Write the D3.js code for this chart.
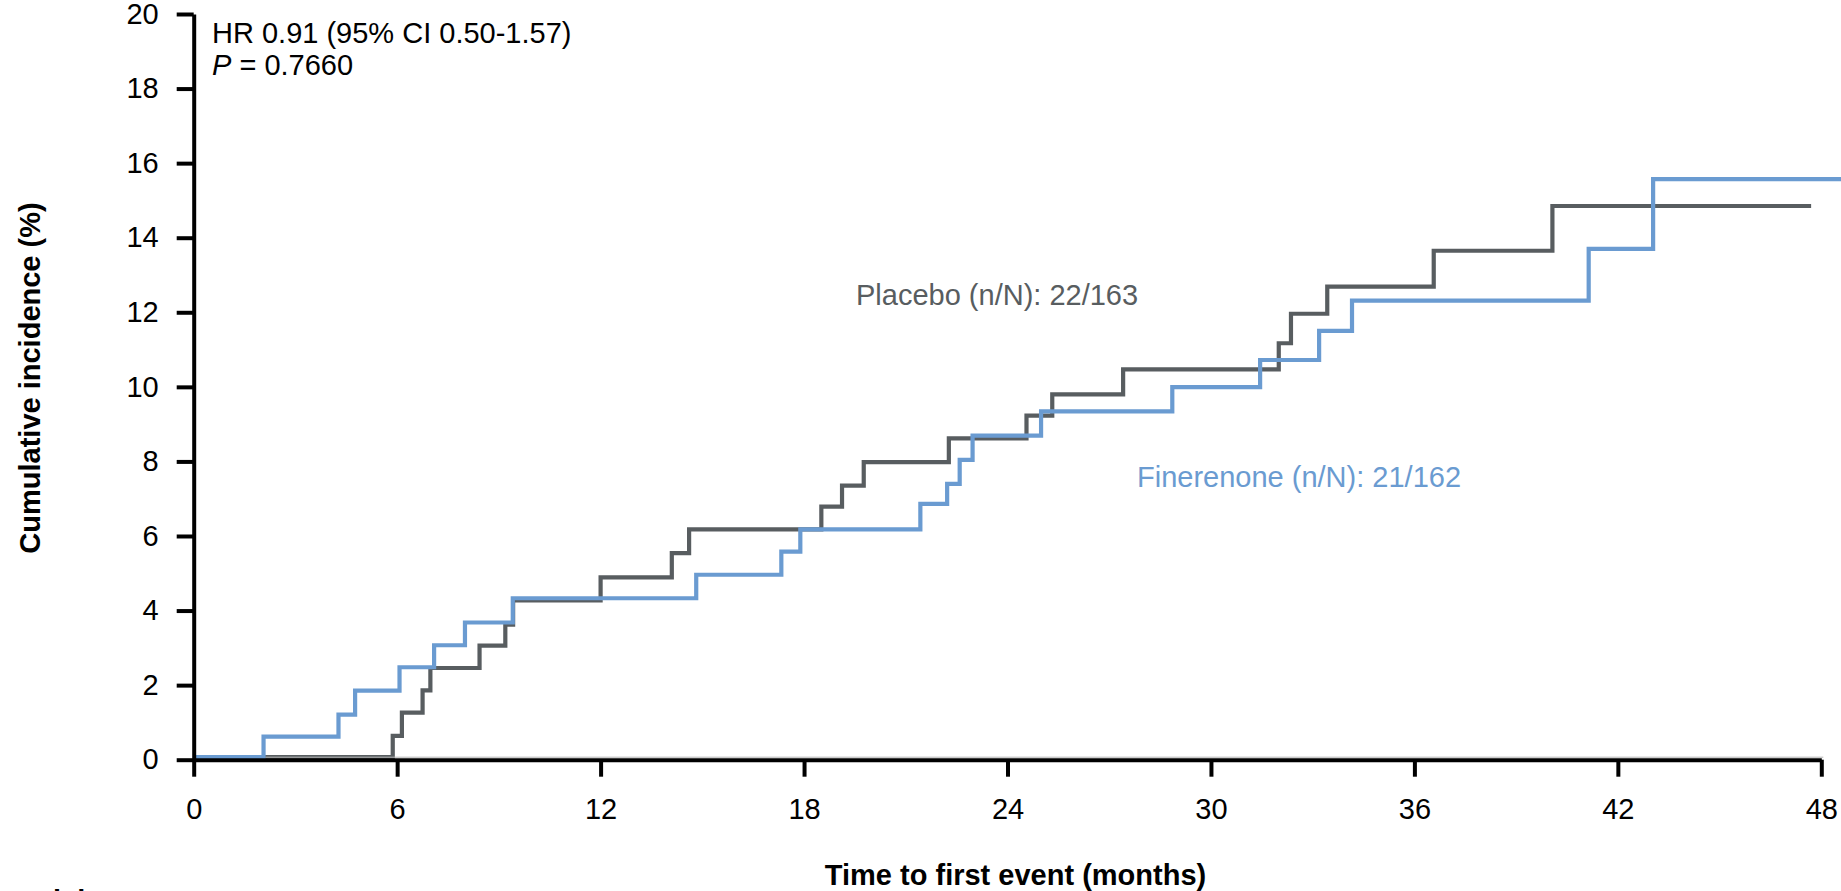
<!DOCTYPE html>
<html>
<head>
<meta charset="utf-8">
<script src="https://cdn.jsdelivr.net/npm/d3@7"></script>
<style>
  html, body { margin: 0; padding: 0; background: #fff; overflow: hidden; }
  text { font-family: "Liberation Sans", Arial, sans-serif; }
</style>
</head>
<body>
<svg id="chart" width="1841" height="891"></svg>
<script>
// ---- Data ----
const xTicks = [0, 6, 12, 18, 24, 30, 36, 42, 48];
const yTicks = [0, 2, 4, 6, 8, 10, 12, 14, 16, 18, 20];

const placeboTimes  = [0, 5.87, 6.14, 6.75, 6.98, 8.43, 9.19, 9.42, 12.0, 14.1, 14.61, 18.51, 19.12, 19.76, 22.27, 24.56, 25.32, 27.41, 32.0, 32.36, 33.43, 36.57, 40.07, 47.7];
const placeboValues = [0.07, 0.64, 1.26, 1.86, 2.46, 3.06, 3.62, 4.27, 4.89, 5.54, 6.18, 6.79, 7.35, 7.98, 8.62, 9.23, 9.80, 10.47, 11.17, 11.96, 12.69, 13.65, 14.85, 14.85];

const fineTimes  = [0, 2.06, 4.27, 4.76, 6.07, 7.09, 8.0, 9.41, 14.82, 17.33, 17.89, 21.43, 22.22, 22.59, 22.97, 24.99, 28.86, 31.45, 33.19, 34.16, 41.14, 43.04, 48.6];
const fineValues = [0.07, 0.62, 1.21, 1.85, 2.48, 3.07, 3.68, 4.33, 4.96, 5.58, 6.18, 6.86, 7.40, 8.04, 8.69, 9.34, 9.99, 10.72, 11.50, 12.31, 13.70, 15.57, 15.57];

const seriesNames = ["Placebo (n/N): 22/163", "Finerenone (n/N): 21/162"];
const annotation1 = "HR 0.91 (95% CI 0.50-1.57)";
const annotation2Value = " = 0.7660";
const xTitle = "Time to first event (months)";
const yTitle = "Cumulative incidence (%)";

// ---- Layout ----
const svg = d3.select("#chart");
const GREY = "#585d60", BLUE = "#6a9bd1";
const FS = 29;

const x = d3.scaleLinear().domain([0, 48]).range([193.7, 1821.3]);
const y = d3.scaleLinear().domain([0, 20]).range([759.7, 14]);

const line = d3.line()
  .x(d => x(d[0]))
  .y(d => y(d[1]))
  .curve(d3.curveStepAfter);

const placebo = placeboTimes.map((t, i) => [t, placeboValues[i]]);
const fine = fineTimes.map((t, i) => [t, fineValues[i]]);

// series lines (drawn below the axes)
svg.append("path").datum(placebo)
  .attr("d", line).attr("fill", "none")
  .attr("stroke", GREY).attr("stroke-width", 4.2)
  .attr("stroke-linejoin", "miter").attr("stroke-linecap", "butt");

svg.append("path").datum(fine)
  .attr("d", line).attr("fill", "none")
  .attr("stroke", BLUE).attr("stroke-width", 4.2)
  .attr("stroke-linejoin", "miter").attr("stroke-linecap", "butt");

// axes
const xAxis = d3.axisBottom(x).tickValues(xTicks).tickSize(17).tickSizeOuter(0).tickPadding(22);
const yAxis = d3.axisLeft(y).tickValues(yTicks).tickSize(17).tickSizeOuter(0).tickPadding(18);

const gx = svg.append("g").attr("transform", `translate(0,${y(0)})`).call(xAxis);
const gy = svg.append("g").attr("transform", `translate(${x(0)},0)`).call(yAxis);

[gx, gy].forEach(g => {
  g.select(".domain").attr("stroke", "#000").attr("stroke-width", 4);
  g.selectAll(".tick line").attr("stroke", "#000").attr("stroke-width", 4);
  g.selectAll(".tick text").attr("fill", "#000")
    .style("font-size", FS + "px")
    .style("font-family", '"Liberation Sans", Arial, sans-serif');
});

// thin light line on top of the x axis
svg.append("line")
  .attr("x1", x(2.06) + 2).attr("x2", x(48) + 2)
  .attr("y1", y(0) - 2.5).attr("y2", y(0) - 2.5)
  .attr("stroke", "#b4b4b4").attr("stroke-width", 1);

// axis titles
svg.append("text")
  .attr("x", (x(0) + x(48)) / 2 + 8).attr("y", 885)
  .attr("text-anchor", "middle")
  .style("font-size", FS + "px").style("font-weight", "bold")
  .text(xTitle);

svg.append("text")
  .attr("transform", "translate(40,378) rotate(-90)")
  .attr("text-anchor", "middle")
  .style("font-size", FS + "px").style("font-weight", "bold")
  .text(yTitle);

// annotations
svg.append("text")
  .attr("x", 212).attr("y", 43)
  .style("font-size", FS + "px")
  .text(annotation1);

const p = svg.append("text")
  .attr("x", 212).attr("y", 75)
  .style("font-size", FS + "px");
p.append("tspan").style("font-style", "italic").text("P");
p.append("tspan").text(annotation2Value);

// series labels
svg.append("text")
  .attr("x", 856).attr("y", 305)
  .attr("fill", GREY)
  .style("font-size", FS + "px")
  .text(seriesNames[0]);

svg.append("text")
  .attr("x", 1137).attr("y", 487)
  .attr("fill", BLUE)
  .style("font-size", FS + "px")
  .text(seriesNames[1]);

// partially cut-off text at the bottom-left of the original picture
svg.append("text")
  .attr("x", 3).attr("y", 911)
  .style("font-size", FS + "px").style("font-weight", "bold")
  .text("At risk");
</script>
</body>
</html>
